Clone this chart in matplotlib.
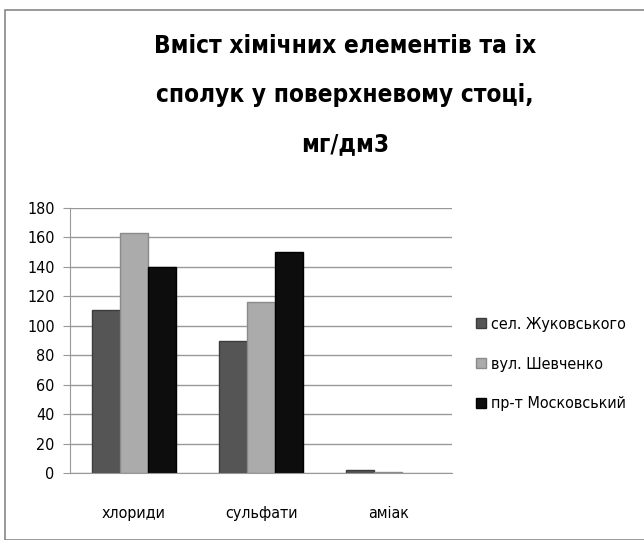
import matplotlib
matplotlib.use("Agg")
import matplotlib.pyplot as plt
import numpy as np

categories = ["хлориди", "сульфати", "аміак"]
series_names = ["сел. Жуковського", "вул. Шевченко", "пр-т Московський"]
zhukovskoho = [111, 90, 2]
shevchenko = [163, 116, 0.6]
moskovskyi = [140, 150, 0]
yticks = [0, 20, 40, 60, 80, 100, 120, 140, 160, 180]
title = "Вміст хімічних елементів та іх\nсполук у поверхневому стоці,\nмг/дм3"

colors = ["#555555", "#ababab", "#0d0d0d"]
edge_colors = ["#3c3c3c", "#8a8a8a", "#000000"]

plt.rcParams['font.family'] = ['DejaVu Sans']
plt.rcParams['font.stretch'] = 'condensed'

fig = plt.figure(figsize=(6.44, 5.40), dpi=100)
W, H = 644, 540
ax = fig.add_axes([70 / W, 1 - 473 / H, (452 - 70) / W, (473 - 208) / H])

x = np.arange(len(categories))
bw = 0.22
data = [zhukovskoho, shevchenko, moskovskyi]
for i, (vals, c, ec, name) in enumerate(zip(data, colors, edge_colors, series_names)):
    bars = ax.bar(x + (i - 1) * bw, vals, width=bw, color=c, edgecolor=ec,
                  linewidth=1.0, label=name, zorder=3)
    for b, v in zip(bars, vals):
        if v == 0:
            b.set_linewidth(0)

ax.set_xlim(-0.5, 2.5)
ax.set_ylim(0, 180)
ax.set_yticks(yticks)
ax.set_xticks(x)
ax.set_xticklabels(categories, fontsize=11.5)
ax.tick_params(axis='x', length=0, pad=24)
ax.tick_params(axis='y', length=5, color="#999999", labelsize=11.5, pad=6)
ax.yaxis.grid(True, color="#999999", linewidth=1, zorder=0)
for s in ["top", "right"]:
    ax.spines[s].set_visible(False)
ax.spines["left"].set_color("#999999")
ax.spines["bottom"].set_color("#999999")
ax.spines["bottom"].set_zorder(4)

fig.text(345 / W, 1 - 95 / H, title, ha="center", va="center",
         fontsize=17.5, fontweight="bold", linespacing=2.3)

leg = fig.legend(loc="center left", bbox_to_anchor=(462 / W, 1 - 364 / H),
                 frameon=False, fontsize=11.5, handlelength=0.6, handleheight=0.6,
                 handletextpad=0.3, labelspacing=1.55)

# outer frame
fig.patches.append(plt.Rectangle((5 / W, 0), 1, 1 - 10 / H, transform=fig.transFigure,
                                 fill=False, edgecolor="#888888", linewidth=1.2))

fig.savefig("out.png", dpi=100)
